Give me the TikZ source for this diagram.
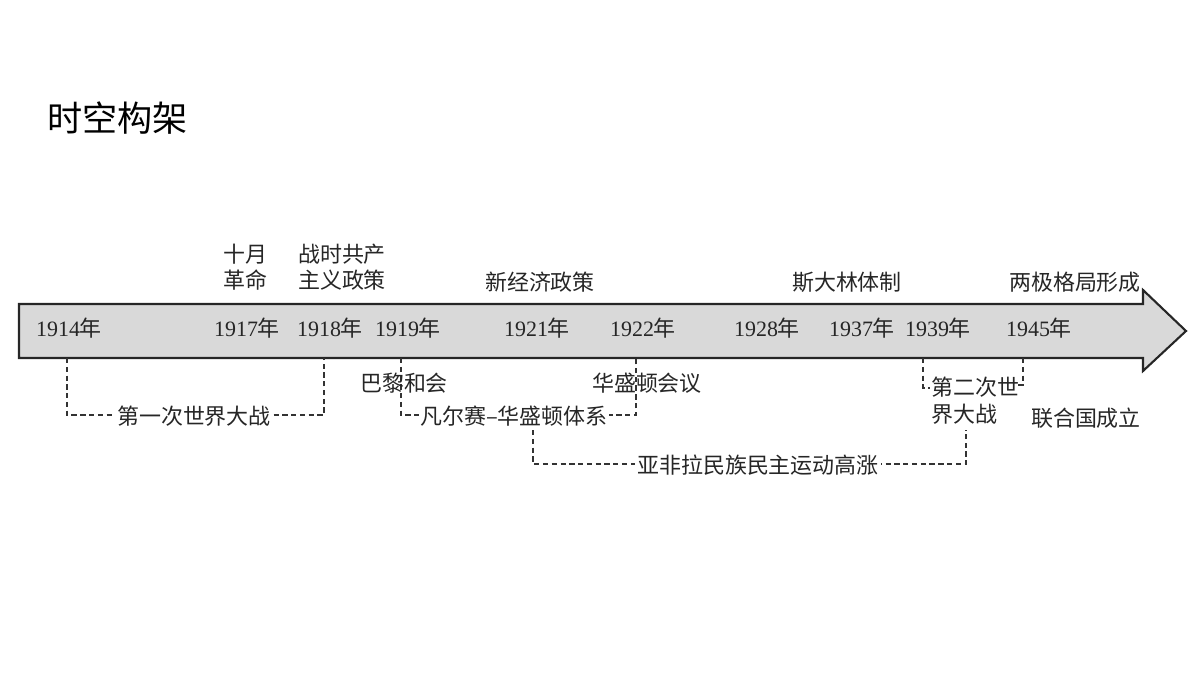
\documentclass[tikz,border=0pt]{standalone}
\usepackage{fontspec}
\setmainfont{Liberation Serif}
\newfontfamily\cjk{Noto Sans CJK SC}
\begin{document}
\begin{tikzpicture}[x=0.02cm,y=-0.02cm,
  lbl/.style={font=\cjk\fontsize{12.5}{15}\selectfont,inner sep=1pt,text=black!85},
  yr/.style={font=\fontsize{12.5}{15}\selectfont,inner sep=1pt,text=black!85},
  msk/.style={lbl,fill=white},
  dl/.style={draw=black!80,dash pattern=on 3pt off 2pt,line width=0.6pt}]
\useasboundingbox (0,0) rectangle (1200,675);
\node[anchor=west,font=\cjk\fontsize{20}{24}\selectfont,inner sep=0pt] (title) at (47,118) {时空构架};
% arrow
\draw[fill=black!15,draw=black!85,line width=1.2pt] (19,304) -- (1143,304) -- (1143,290) -- (1186,331) -- (1143,371) -- (1143,358) -- (19,358) -- cycle;
% years
\foreach \n/\x/\t in {a/69/1914,b/247/1917,c/330/1918,d/408/1919,e/537/1921,f/643/1922,g/767/1928,h/862/1937,i/938/1939,j/1039/1945}
  \node[yr] (y\n) at (\x,328) {\t{\cjk 年}};
% upper labels
\node[lbl,align=left,anchor=north west] (oct) at (221,242) {十月\\革命};
\node[lbl,align=left,anchor=north west] (war) at (296,242) {战时共产\\主义政策};
\node[lbl] (nep) at (540,282) {新经济政策};
\node[lbl] (sta) at (847,282) {斯大林体制};
\node[lbl] (bip) at (1075,282) {两极格局形成};
% dashed connectors
\coordinate (w1) at (67,358); \coordinate (w2) at (324,358);
\draw[dl] (w1) -- (67,415) -- (324,415) -- (w2);
\node[msk] (ww1) at (194,416) {第一次世界大战};
\coordinate (v1) at (401,358); \coordinate (v2) at (636,358);
\draw[dl] (v1) -- (401,415) -- (636,415) -- (v2);
\node[msk] (ver) at (514,416) {凡尔赛–华盛顿体系};
\node[lbl] (par) at (404,383) {巴黎和会};
\node[lbl] (was) at (647,383) {华盛顿会议};
\coordinate (s1) at (533,430); \coordinate (s2) at (966,430);
\draw[dl] (s1) -- (533,464) -- (966,464) -- (s2);
\node[msk] (aa) at (758,465) {亚非拉民族民主运动高涨};
\coordinate (t1) at (923,358); \coordinate (t2) at (1023,358);
\draw[dl] (t1) -- (923,388) -- (930,388);
\draw[dl] (t2) -- (1023,385) -- (1015,385);
\node[lbl,align=left,anchor=north west] (ww2) at (929,375) {第二次世\\界大战};
\node[lbl] (un) at (1086,418) {联合国成立};
\end{tikzpicture}
\end{document}
